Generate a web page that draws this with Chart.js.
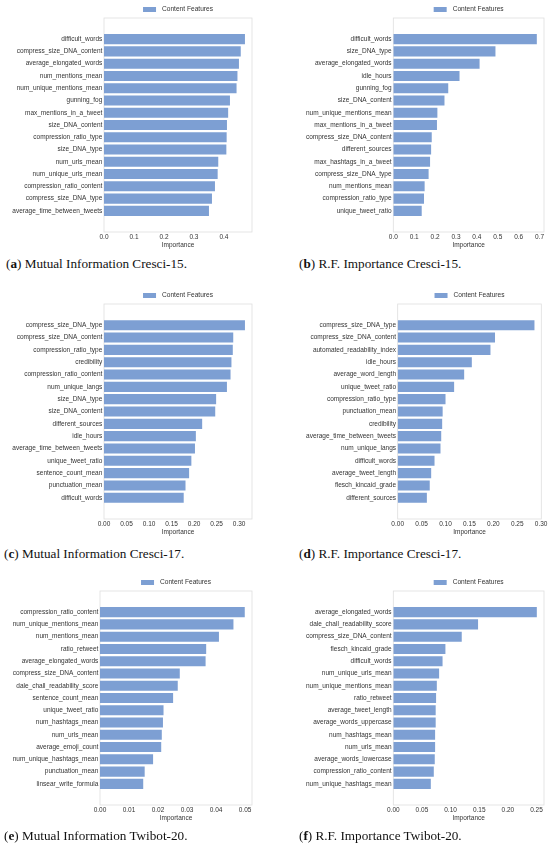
<!DOCTYPE html>
<html><head><meta charset="utf-8">
<script src="https://cdn.jsdelivr.net/npm/chart.js@4.4.0/dist/chart.umd.min.js"></script>
<style>
html,body{margin:0;padding:0;background:#fff;width:550px;height:849px;overflow:hidden}
canvas{position:absolute}
.cap{position:absolute;font-family:"Liberation Serif",serif;font-size:13.2px;color:#111;white-space:nowrap;line-height:16px}
</style></head><body>
<canvas id="c0"></canvas><canvas id="c1"></canvas><canvas id="c2"></canvas>
<canvas id="c3"></canvas><canvas id="c4"></canvas><canvas id="c5"></canvas>
<div class="cap" id="t0"></div><div class="cap" id="t1"></div><div class="cap" id="t2"></div>
<div class="cap" id="t3"></div><div class="cap" id="t4"></div><div class="cap" id="t5"></div>
<script>
const seriesName = 'Content Features';
const axisTitle = 'Importance';

const labelsA = ['difficult_words','compress_size_DNA_content','average_elongated_words','num_mentions_mean','num_unique_mentions_mean','gunning_fog','max_mentions_in_a_tweet','size_DNA_content','compression_ratio_type','size_DNA_type','num_urls_mean','num_unique_urls_mean','compression_ratio_content','compress_size_DNA_type','average_time_between_tweets'];
const valuesA = [0.470,0.456,0.450,0.445,0.442,0.420,0.414,0.410,0.409,0.408,0.381,0.379,0.370,0.360,0.350];

const labelsB = ['difficult_words','size_DNA_type','average_elongated_words','idle_hours','gunning_fog','size_DNA_content','num_unique_mentions_mean','max_mentions_in_a_tweet','compress_size_DNA_content','different_sources','max_hashtags_in_a_tweet','compress_size_DNA_type','num_mentions_mean','compression_ratio_type','unique_tweet_ratio'];
const valuesB = [0.687,0.489,0.413,0.317,0.263,0.245,0.211,0.209,0.184,0.181,0.176,0.169,0.150,0.147,0.136];

const labelsC = ['compress_size_DNA_type','compress_size_DNA_content','compression_ratio_type','credibility','compression_ratio_content','num_unique_langs','size_DNA_type','size_DNA_content','different_sources','idle_hours','average_time_between_tweets','unique_tweet_ratio','sentence_count_mean','punctuation_mean','difficult_words'];
const valuesC = [0.313,0.287,0.286,0.283,0.281,0.273,0.249,0.247,0.218,0.204,0.202,0.194,0.189,0.181,0.177];

const labelsD = ['compress_size_DNA_type','compress_size_DNA_content','automated_readability_index','idle_hours','average_word_length','unique_tweet_ratio','compression_ratio_type','punctuation_mean','credibility','average_time_between_tweets','num_unique_langs','difficult_words','average_tweet_length','flesch_kincaid_grade','different_sources'];
const valuesD = [0.286,0.2035,0.194,0.155,0.139,0.118,0.100,0.094,0.093,0.091,0.0895,0.077,0.070,0.067,0.061];

const labelsE = ['compression_ratio_content','num_unique_mentions_mean','num_mentions_mean','ratio_retweet','average_elongated_words','compress_size_DNA_content','dale_chall_readability_score','sentence_count_mean','unique_tweet_ratio','num_hashtags_mean','num_urls_mean','average_emoji_count','num_unique_hashtags_mean','punctuation_mean','linsear_write_formula'];
const valuesE = [0.0499,0.0460,0.0410,0.0366,0.0364,0.0275,0.0268,0.0252,0.0219,0.0217,0.0213,0.0211,0.0183,0.0154,0.0149];

const labelsF = ['average_elongated_words','dale_chall_readability_score','compress_size_DNA_content','flesch_kincaid_grade','difficult_words','num_unique_urls_mean','num_unique_mentions_mean','ratio_retweet','average_tweet_length','average_words_uppercase','num_hashtags_mean','num_urls_mean','average_words_lowercase','compression_ratio_content','num_unique_hashtags_mean'];
const valuesF = [0.2506,0.148,0.1195,0.091,0.086,0.080,0.076,0.0747,0.074,0.074,0.073,0.073,0.0724,0.0707,0.0655];

const tickStepsX = [0.1, 0.1, 0.05, 0.05, 0.01, 0.05];
const tickDecimals = [1, 1, 2, 2, 2, 2];

const captionLetters = ['a','b','c','d','e','f'];
const captionTexts = ['Mutual Information Cresci-15.','R.F. Importance Cresci-15.','Mutual Information Cresci-17.','R.F. Importance Cresci-17.','Mutual Information Twibot-20.','R.F. Importance Twibot-20.'];

const allLabels = [labelsA, labelsB, labelsC, labelsD, labelsE, labelsF];
const allValues = [valuesA, valuesB, valuesC, valuesD, valuesE, valuesF];

// layout (page pixels)
const layout = [
  {left:0,   top:0,   plotL:104,   plotR:252, plotT:18, plotB:232, capTop:256, capLeft:6},
  {left:275, top:0,   plotL:118.3, plotR:269, plotT:18, plotB:232, capTop:256, capLeft:299},
  {left:0,   top:286, plotL:104,   plotR:252, plotT:18, plotB:233, capTop:546, capLeft:4},
  {left:275, top:286, plotL:122.7, plotR:266.3, plotT:18, plotB:233, capTop:546, capLeft:299},
  {left:0,   top:573, plotL:100,   plotR:252, plotT:18, plotB:232, capTop:828, capLeft:4},
  {left:275, top:573, plotL:118.3, plotR:269, plotT:18, plotB:232, capTop:828, capLeft:299}
];
const CW = 275, CH = 256;
const barColor = 'rgb(125,159,211)';
const textColor = '#333333';
const frameColor = '#dedede';
const FONT = '"Liberation Sans", Arial, sans-serif';
const FS = 6.5;

const framePlugin = {
  id: 'frameAndLegend',
  beforeDatasetsDraw(chart) {
    const a = chart.chartArea, ctx = chart.ctx;
    ctx.save();
    ctx.strokeStyle = frameColor; ctx.lineWidth = 0.8;
    ctx.strokeRect(a.left, a.top, a.right - a.left, a.bottom - a.top);
    ctx.restore();
  },
  afterDraw(chart) {
    const a = chart.chartArea, ctx = chart.ctx;
    const label = chart.data.datasets[0].label;
    ctx.save();
    ctx.font = '6.6px ' + FONT;
    const tw = ctx.measureText(label).width;
    const bw = 13, gap = 6;
    const x0 = (a.left + a.right) / 2 - (bw + gap + tw) / 2;
    const y = a.top - 8.5;
    ctx.fillStyle = barColor;
    ctx.fillRect(x0, y - 2.5, bw, 5);
    ctx.fillStyle = textColor;
    ctx.textBaseline = 'middle';
    ctx.textAlign = 'left';
    ctx.fillText(label, x0 + bw + gap, y);
    ctx.restore();
  }
};

allLabels.forEach((labels, p) => {
  const L = layout[p];
  const values = allValues[p];
  const cv = document.getElementById('c' + p);
  cv.style.left = L.left + 'px'; cv.style.top = L.top + 'px';
  cv.width = CW; cv.height = CH;
  cv.style.width = CW + 'px'; cv.style.height = CH + 'px';
  const n = labels.length;
  const margin = 0.05 * (n - 1 + 0.8);
  const xmax = Math.max(...values) * 1.05;
  const xTitleH = 17;
  new Chart(cv, {
    type: 'bar',
    data: {
      datasets: [{
        label: seriesName,
        data: values.map((v, i) => ({x: v, y: i})),
        backgroundColor: barColor,
        borderWidth: 0,
        barPercentage: 0.82,
        categoryPercentage: 1.0
      }]
    },
    options: {
      indexAxis: 'y',
      responsive: false,
      maintainAspectRatio: false,
      animation: false,
      layout: {padding: {left: 0, top: L.plotT, right: CW - L.plotR, bottom: CH - L.plotB - xTitleH}},
      plugins: {legend: {display: false}, tooltip: {enabled: false}},
      scales: {
        y: {
          type: 'linear',
          reverse: true,
          min: -0.4 - margin,
          max: n - 1 + 0.4 + margin,
          grid: {display: false, drawTicks: false},
          border: {display: false},
          afterBuildTicks: s => { s.ticks = labels.map((_, i) => ({value: i})); },
          afterFit: s => { s.width = L.plotL; },
          ticks: {
            autoSkip: false,
            padding: 1.7,
            color: textColor,
            font: {family: FONT, size: FS},
            callback: v => labels[v]
          }
        },
        x: {
          type: 'linear',
          min: 0,
          max: xmax,
          grid: {display: false, drawTicks: false},
          border: {display: false},
          afterFit: s => { s.height = xTitleH; },
          ticks: {
            stepSize: tickStepsX[p],
            includeBounds: false,
            autoSkip: false,
            maxRotation: 0,
            padding: 1.5,
            color: textColor,
            font: {family: FONT, size: FS},
            callback: v => Number(v).toFixed(tickDecimals[p])
          },
          title: {
            display: true,
            text: axisTitle,
            color: textColor,
            padding: 0,
            font: {family: FONT, size: FS}
          }
        }
      }
    },
    plugins: [framePlugin]
  });
  const cap = document.getElementById('t' + p);
  cap.style.left = L.capLeft + 'px';
  cap.style.top = L.capTop + 'px';
  cap.innerHTML = '(<b>' + captionLetters[p] + '</b>) ' + captionTexts[p];
});
</script>
</body></html>
